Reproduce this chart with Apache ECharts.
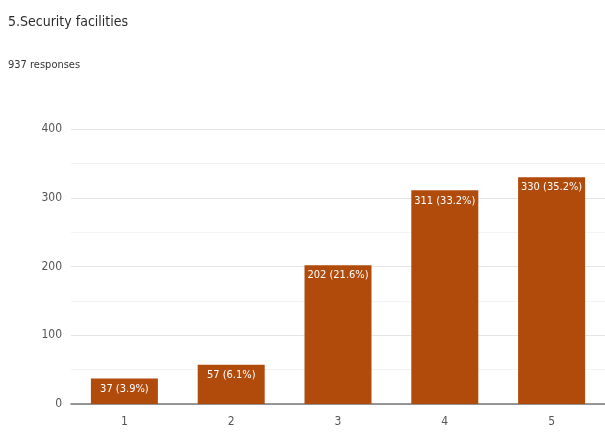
<!DOCTYPE html>
<html><head><meta charset="utf-8">
<script src="https://cdn.jsdelivr.net/npm/echarts@6/dist/echarts.min.js"></script>
<style>html,body{margin:0;padding:0;background:#fff}#c{width:605px;height:435px}</style>
</head><body><div id="c"></div>
<script>
const titleText = "5.Security facilities";
const subtitleText = "937 responses";
const categories = ["1", "2", "3", "4", "5"];
const counts = [37, 57, 202, 311, 330];
const percents = ["3.9%", "6.1%", "21.6%", "33.2%", "35.2%"];
const yTicks = [0, 100, 200, 300, 400];

const font = "'Liberation Sans Narrow', 'DejaVu Sans Condensed', 'Roboto', sans-serif";
const chart = echarts.init(document.getElementById('c'), null, {renderer: 'canvas'});
chart.setOption({
  animation: false,
  title: [
    {text: titleText, left: 3, top: 10, textStyle: {fontFamily: font, fontSize: 14, fontWeight: 'normal', color: '#2b2b2b'}},
    {text: subtitleText, left: 3, top: 55, textStyle: {fontFamily: font, fontSize: 11, fontWeight: 'normal', color: '#333'}}
  ],
  grid: {left: 71, right: -8, top: 129, bottom: 31, containLabel: false},
  xAxis: {
    type: 'category', data: categories,
    axisLine: {lineStyle: {color: '#777', width: 1.5}},
    axisTick: {show: false},
    axisLabel: {fontFamily: font, fontSize: 12, color: '#555', margin: 12}
  },
  yAxis: {
    type: 'value', min: yTicks[0], max: yTicks[yTicks.length - 1], interval: 100,
    axisLine: {show: false}, axisTick: {show: false},
    axisLabel: {fontFamily: font, fontSize: 12, color: '#555', margin: 9},
    splitLine: {lineStyle: {color: '#e4e4e4'}},
    minorTick: {show: false, splitNumber: 2},
    minorSplitLine: {show: true, lineStyle: {color: '#f3f3f3'}}
  },
  series: [{
    type: 'bar', data: counts, barWidth: 67,
    itemStyle: {color: '#b04b0c'},
    label: {
      show: true, position: 'insideTop', distance: 5,
      color: '#fff', fontFamily: font, fontSize: 11,
      formatter: p => counts[p.dataIndex] + ' (' + percents[p.dataIndex] + ')'
    }
  }]
});
</script></body></html>
